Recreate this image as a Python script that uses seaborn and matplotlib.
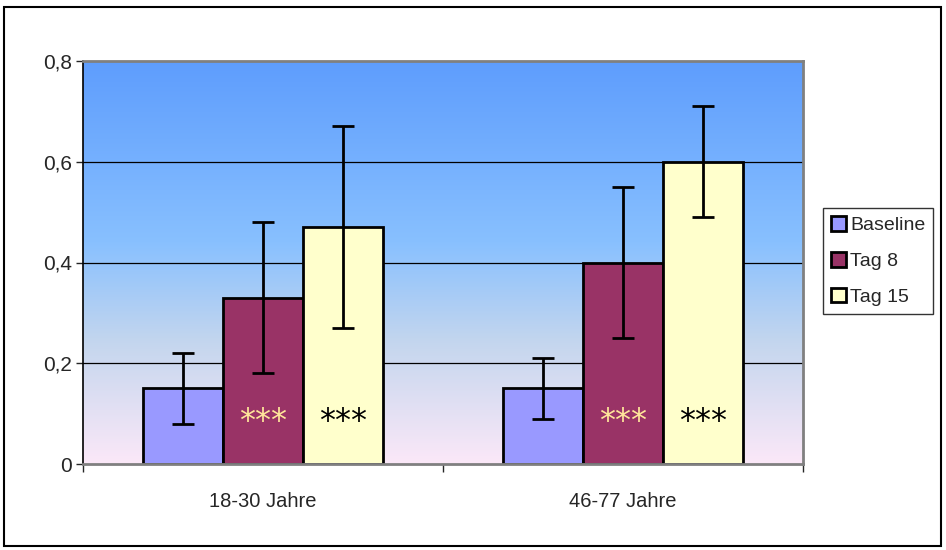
import numpy as np
import pandas as pd
import seaborn as sns
import matplotlib.pyplot as plt
from matplotlib.colors import LinearSegmentedColormap
from matplotlib.patches import Rectangle

# Daten
gruppen = ["18-30 Jahre", "46-77 Jahre"]
serien = ["Baseline", "Tag 8", "Tag 15"]
baseline = [0.15, 0.15]
tag8 = [0.33, 0.40]
tag15 = [0.47, 0.60]
fehler_baseline = [0.07, 0.06]
fehler_tag8 = [0.15, 0.15]
fehler_tag15 = [0.20, 0.11]
sterne = ["", "***", "***"]
yticks = [0, 0.2, 0.4, 0.6, 0.8]
ytick_labels = ["0", "0,2", "0,4", "0,6", "0,8"]

werte = [baseline, tag8, tag15]
fehler = [fehler_baseline, fehler_tag8, fehler_tag15]
df = pd.DataFrame({
    "gruppe": gruppen * 3,
    "serie": [s for s in serien for _ in gruppen],
    "wert": baseline + tag8 + tag15,
})

farben = ["#9999ff", "#993366", "#ffffcc"]
stern_farben = ["black", "#ffe69a", "black"]

sns.set_style("white")
plt.rcParams["font.family"] = ["Liberation Sans", "DejaVu Sans"]

fig = plt.figure(figsize=(9.46, 5.5), dpi=100)
ax = fig.add_axes([83 / 946, 86 / 550, 720 / 946, 403 / 550])

# Hintergrund-Verlauf
cmap = LinearSegmentedColormap.from_list(
    "bg", [(0.0, "#fbe8f8"), (0.3, "#c4d6ee"), (0.55, "#88c0ff"), (1.0, "#5e9dfd")])
grad = np.linspace(0, 1, 256).reshape(-1, 1)
ax.imshow(grad, cmap=cmap, origin="lower", aspect="auto",
          extent=[-0.5, 1.5, 0, 0.8], zorder=0)

for y in [0.2, 0.4, 0.6]:
    ax.axhline(y, color="black", lw=0.9, zorder=1)

sns.barplot(data=df, x="gruppe", y="wert", hue="serie", hue_order=serien,
            palette=farben, width=0.667, edgecolor="black", linewidth=2,
            errorbar=None, saturation=1, ax=ax, zorder=2)

bar_conts = list(ax.containers)
for i, cont in enumerate(bar_conts):
    xs = [b.get_x() + b.get_width() / 2 for b in cont]
    ax.errorbar(xs, werte[i], yerr=fehler[i], fmt="none", ecolor="black",
                elinewidth=2, capsize=8, capthick=2, zorder=3)
    for x in xs:
        if sterne[i]:
            ax.text(x, 0.085, sterne[i], color=stern_farben[i], ha="center",
                    va="center", fontsize=23, family="DejaVu Sans", zorder=4)

ax.set_xlim(-0.5, 1.5)
ax.set_ylim(0, 0.8)
ax.set_yticks(yticks)
ax.set_yticklabels(ytick_labels)
ax.set_xlabel("")
ax.set_ylabel("")
ax.tick_params(axis="y", left=True, length=5, width=1, pad=3, labelsize=15)
ax.tick_params(axis="x", bottom=True, length=0, pad=20, labelsize=14.5)
ax.set_xticks([-0.5, 0.5, 1.5], minor=True)
ax.tick_params(axis="x", which="minor", bottom=True, length=6, width=1)

for side in ["top", "right", "bottom"]:
    ax.spines[side].set_color("#808080")
    ax.spines[side].set_linewidth(2)
ax.spines["left"].set_color("black")
ax.spines["left"].set_linewidth(1.2)

handles, labels = ax.get_legend_handles_labels()
ax.legend(handles, labels, loc="center left",
          bbox_to_anchor=(823 / 946, (550 - 261) / 550),
          bbox_transform=fig.transFigure, frameon=True, fancybox=False,
          edgecolor="black", fontsize=14, handlelength=0.8, handleheight=0.8,
          handletextpad=0.2, borderpad=0.4, labelspacing=0.9, borderaxespad=0)
ax.get_legend().get_frame().set_linewidth(1)

# Rahmen um die Grafik
fig.patches.append(Rectangle((4 / 946, 4 / 550), 937 / 946, 539 / 550,
                             transform=fig.transFigure, fill=False,
                             edgecolor="black", lw=1.5))

fig.savefig("out.png", dpi=100)
